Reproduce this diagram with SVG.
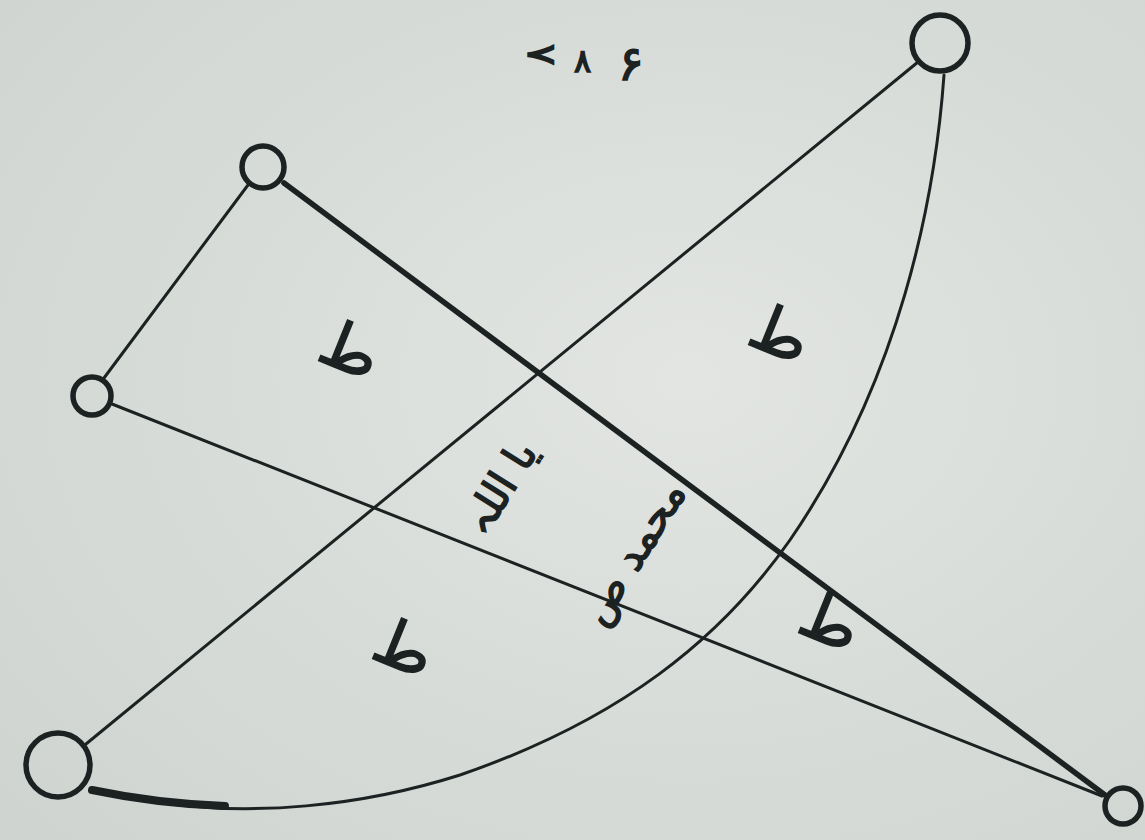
<svg xmlns="http://www.w3.org/2000/svg" width="1145" height="840" viewBox="0 0 1145 840">
<defs>
<radialGradient id="bg" cx="0.6" cy="0.45" r="0.8">
<stop offset="0" stop-color="#e2e5e2"/>
<stop offset="1" stop-color="#cfd4d1"/>
</radialGradient>
<style>
.ln{fill:none;stroke:#1c2222;stroke-width:3;stroke-linecap:round}
.thick{fill:none;stroke:#1c2222;stroke-width:5.5;stroke-linecap:round}
.nd{fill:none;stroke:#1c2222;stroke-width:5.5}
.ar{font-family:"DejaVu Sans","Noto Sans",sans-serif;fill:#1c2222;stroke:#1c2222;stroke-width:1.5}
.ta{font-size:64px}
.tx{font-size:42px}
</style>
</defs>
<rect width="1145" height="840" fill="url(#bg)"/>
<g id="connectors">
<line class="ln" x1="248" y1="185" x2="104" y2="378"/>
<line class="thick" x1="284" y1="183" x2="1105" y2="795"/>
<line class="ln" x1="112" y1="404" x2="1102" y2="796"/>
<line class="ln" x1="86" y1="744" x2="918" y2="62"/>
<path class="ln" d="M944,75 C935,200 900,380 790,540 C720,640 620,720 460,775 C350,810 250,812 190,806 C140,801 110,796 92,790"/>
<path fill="none" stroke="#1c2222" stroke-width="8" stroke-linecap="round" d="M92,790 C130,798 170,804 225,806"/>
</g>
<g id="nodeA"><circle class="nd" cx="263" cy="167" r="21"/></g>
<g id="nodeB"><circle class="nd" cx="92" cy="396" r="19"/></g>
<g id="nodeC"><circle class="nd" cx="940" cy="43" r="28"/></g>
<g id="nodeD"><circle class="nd" cx="58" cy="765" r="32"/></g>
<g id="nodeE"><circle class="nd" cx="1123" cy="806" r="18"/></g>
<g id="labels">
<text class="ar"><tspan x="528" y="44" font-size="40" rotate="90">۷</tspan><tspan x="574" y="72" font-size="32">۸</tspan><tspan x="618" y="80" font-size="48">۶</tspan></text>
<text class="ar ta" transform="translate(342,370) rotate(22)" text-anchor="middle">ط</text>
<text class="ar ta" transform="translate(772,354) rotate(22)" text-anchor="middle">ط</text>
<text class="ar ta" transform="translate(396,668) rotate(22)" text-anchor="middle">ط</text>
<text class="ar ta" transform="translate(822,642) rotate(22)" text-anchor="middle">ط</text>
<text class="ar tx" transform="translate(512,495) rotate(-58)" text-anchor="middle">یا اللہ</text>
<text class="ar tx" transform="translate(645,560) rotate(-58)" text-anchor="middle">محمد ص</text>
</g>
</svg>
